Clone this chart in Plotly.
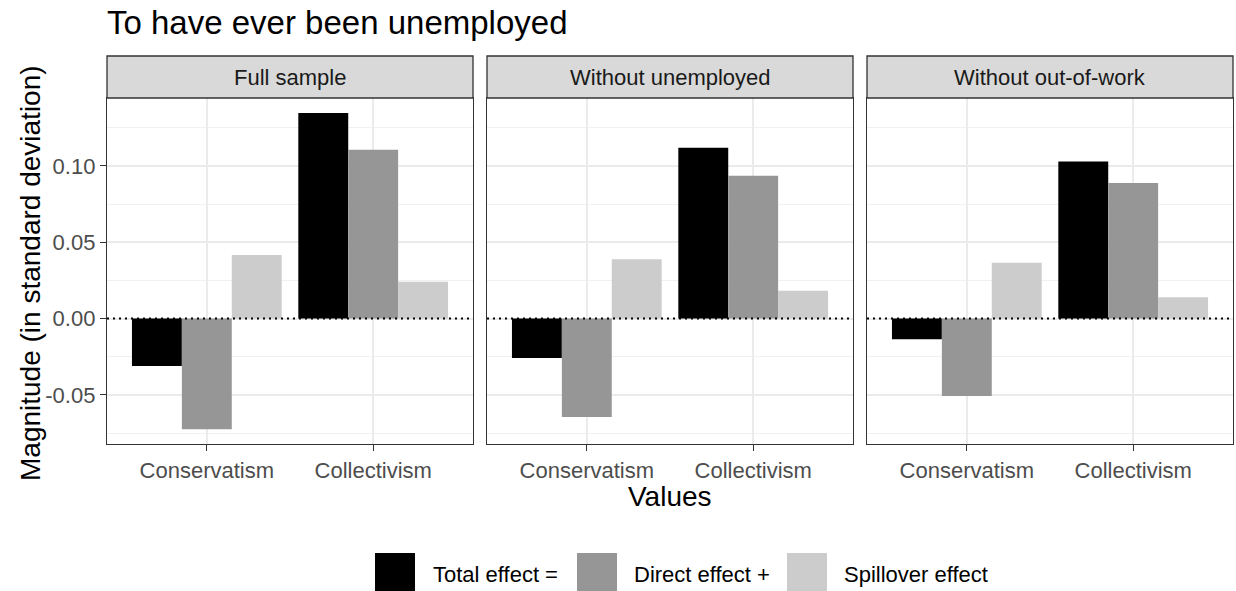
import plotly.graph_objects as go

# ---- data ----
panels = ["Full sample", "Without unemployed", "Without out-of-work"]
categories = ["Conservatism", "Collectivism"]
effects = ["Total effect =", "Direct effect +", "Spillover effect"]

total_effect = [[-0.031, 0.1346], [-0.0258, 0.1119], [-0.0135, 0.1029]]
direct_effect = [[-0.0725, 0.1106], [-0.0644, 0.0935], [-0.0507, 0.0887]]
spillover_effect = [[0.0417, 0.0241], [0.0389, 0.0182], [0.0365, 0.0140]]

y_ticks = [-0.05, 0.00, 0.05, 0.10]
y_tick_text = ["-0.05", "0.00", "0.05", "0.10"]

colors = ["#000000", "#969696", "#cccccc"]
series = [total_effect, direct_effect, spillover_effect]

# ---- layout geometry (pixels) ----
W, H = 1236, 591
L, R, T, B = 107, 3, 98, 147
PW = W - L - R
PH = H - T - B
FONT = "Liberation Sans, Arial, sans-serif"
SMALL = 22


def px_x(px):
    return (px - L) / PW


def px_y(py):
    return (H - B - py) / PH


panel_px = [(107, 473), (487, 853), (867, 1233)]

fig = go.Figure()
for p in range(3):
    ax = "" if p == 0 else str(p + 1)
    for s in range(3):
        fig.add_trace(go.Bar(
            x=categories, y=series[s][p], name=effects[s],
            marker=dict(color=colors[s], line=dict(width=0)),
            xaxis="x" + ax, yaxis="y" + ax, showlegend=False,
        ))

yrange = [-0.0821, 0.1444]
layout = dict(
    width=W, height=H,
    margin=dict(l=L, r=R, t=T, b=B, pad=0),
    paper_bgcolor="white", plot_bgcolor="white",
    barmode="group", bargap=0.1, bargroupgap=0,
    font=dict(family=FONT, color="#4d4d4d", size=SMALL),
    showlegend=False,
)
shapes = []
annotations = []
for p in range(3):
    ax = "" if p == 0 else str(p + 1)
    x0, x1 = panel_px[p]
    layout["xaxis" + ax] = dict(
        domain=[px_x(x0), px_x(x1)], anchor="y" + ax,
        type="category", range=[-0.6, 1.6],
        showgrid=True, gridcolor="#ebebeb", gridwidth=1.5,
        showline=True, mirror=True, linecolor="#333333", linewidth=1.3,
        ticks="outside", ticklen=6, tickcolor="#333333", tickwidth=1.3,
        tickfont=dict(family=FONT, size=SMALL, color="#4d4d4d"),
        zeroline=False, fixedrange=True,
    )
    layout["yaxis" + ax] = dict(
        domain=[0, 1], anchor="x" + ax, range=yrange,
        tickvals=y_ticks, ticktext=y_tick_text,
        showticklabels=(p == 0),
        ticks="outside" if p == 0 else "", ticklen=6, tickcolor="#333333", tickwidth=1.3,
        tickfont=dict(family=FONT, size=SMALL, color="#4d4d4d"),
        showgrid=True, gridcolor="#ebebeb", gridwidth=1.5,
        minor=dict(dtick=0.025, tick0=0.025, showgrid=True, gridcolor="#f0f0f0", gridwidth=0.8),
        showline=True, mirror=True, linecolor="#333333", linewidth=1.3,
        zeroline=False, fixedrange=True,
    )
    # dotted zero line
    shapes.append(dict(type="line", xref="x" + ax + " domain", yref="y" + ax,
                       x0=0, x1=1, y0=0, y1=0, layer="above",
                       line=dict(color="black", width=2, dash="2px,4px")))
    # strip
    shapes.append(dict(type="rect", xref="paper", yref="paper",
                       x0=px_x(x0), x1=px_x(x1), y0=px_y(98), y1=px_y(56),
                       fillcolor="#d9d9d9", line=dict(color="#333333", width=1.3),
                       layer="above"))
    annotations.append(dict(text=panels[p], xref="paper", yref="paper",
                            x=px_x((x0 + x1) / 2), y=px_y(77), showarrow=False,
                            xanchor="center", yanchor="middle",
                            font=dict(family=FONT, size=SMALL, color="#1a1a1a")))

# title & axis titles
annotations.append(dict(text="To have ever been unemployed", xref="paper", yref="paper",
                        x=px_x(105), y=px_y(23), xanchor="left", yanchor="middle",
                        showarrow=False, font=dict(family=FONT, size=33, color="black")))
annotations.append(dict(text="Values", xref="paper", yref="paper",
                        x=px_x(670), y=px_y(496), xanchor="center", yanchor="middle",
                        showarrow=False, font=dict(family=FONT, size=28, color="black")))
annotations.append(dict(text="Magnitude (in standard deviation)", xref="paper", yref="paper",
                        x=px_x(30), y=px_y(273), xanchor="center", yanchor="middle",
                        textangle=-90, showarrow=False,
                        font=dict(family=FONT, size=28, color="black")))

# legend (manual)
key_x = [375, 577, 787]
text_x = [431, 632, 842]
for k in range(3):
    shapes.append(dict(type="rect", xref="paper", yref="paper",
                       x0=px_x(key_x[k]), x1=px_x(key_x[k] + 40),
                       y0=px_y(593), y1=px_y(553),
                       fillcolor=colors[k], line=dict(width=0)))
    annotations.append(dict(text=effects[k], xref="paper", yref="paper",
                            x=px_x(text_x[k]), y=px_y(574), xanchor="left", yanchor="middle",
                            showarrow=False, font=dict(family=FONT, size=SMALL, color="black")))

layout["shapes"] = shapes
layout["annotations"] = annotations
fig.update_layout(**layout)
fig.write_html("out.html", config={"displayModeBar": False},
               post_script="document.body.style.margin='0';document.body.style.overflow='hidden';")
